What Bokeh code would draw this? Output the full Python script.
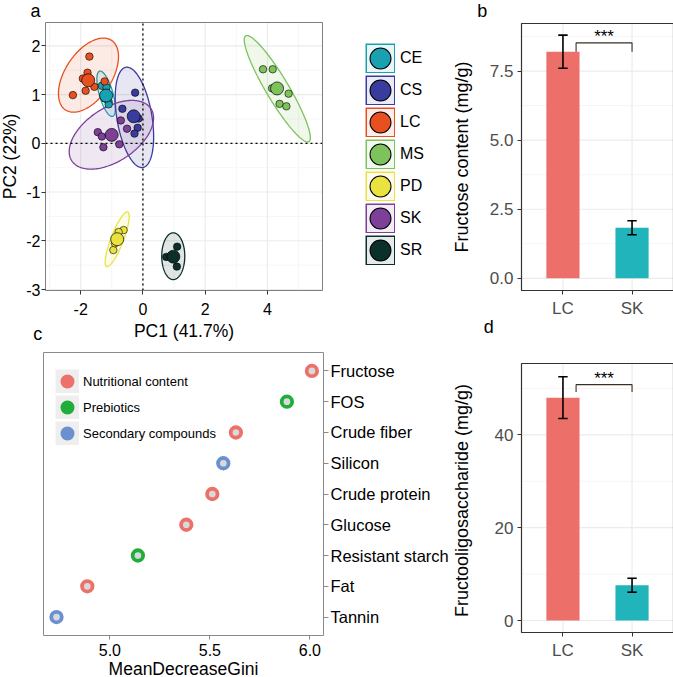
import numpy as np
from bokeh.plotting import figure
from bokeh.layouts import row, column
from bokeh.models import (Range1d, FixedTicker, Label, Legend, LegendItem,
                          PrintfTickFormatter)
from bokeh.embed import file_html
from bokeh.resources import INLINE
from bokeh.core.properties import value

FONT = "Liberation Sans"

# ---------------- panel a : PCA ----------------
pca_groups = ["CE", "CS", "LC", "MS", "PD", "SK", "SR"]
pca_colors = ["#1AA1B1", "#3A3B9E", "#E8501F", "#7DC25B", "#EAE33F", "#7E3F98", "#0B302C"]

ce_pc1 = [-1.32, -1.17, -1.10, -1.22, -1.10]
ce_pc2 = [1.18, 1.15, 0.85, 0.92, 0.80]
cs_pc1 = [-0.25, -0.66, -0.17, -0.27, -0.14, -0.29]
cs_pc2 = [1.04, 0.71, 0.32, 0.20, 0.51, 0.55]
lc_pc1 = [-1.72, -1.78, -1.93, -2.25, -1.84, -1.56, -1.23]
lc_pc2 = [1.78, 1.45, 1.33, 0.99, 1.08, 1.16, 1.27]
ms_pc1 = [3.86, 4.17, 4.68, 4.39, 4.61, 4.15]
ms_pc2 = [1.52, 1.52, 1.02, 0.81, 0.76, 1.13]
pd_pc1 = [-0.62, -0.78, -0.95, -0.90, -0.88]
pd_pc2 = [-1.78, -1.82, -2.19, -2.05, -2.00]
sk_pc1 = [-1.45, -1.32, -1.27, -0.76, -0.71, -0.51]
sk_pc2 = [0.23, 0.14, -0.08, -0.02, 0.47, 0.30]
sr_pc1 = [1.10, 0.75, 1.09, 1.00, 0.95]
sr_pc2 = [-2.12, -2.33, -2.53, -2.35, -2.30]

# confidence ellipses: centre, semi-axes, rotation (degrees)
ell_cx = [-1.183, -0.273, -1.749, 4.318, -0.826, -1.013, 0.975]
ell_cy = [1.017, 0.533, 1.40, 1.12, -1.969, 0.176, -2.316]
ell_a = [0.511, 1.068, 1.077, 1.492, 0.656, 1.408, 0.37]
ell_b = [0.207, 0.549, 0.591, 0.308, 0.183, 0.593, 0.48]
ell_angle = [-63.0, -72.0, 32.1, -45.9, 57.35, 17.4, 0.0]

pca_xlim = (-3.13, 5.77)
pca_ylim = (-3.02, 2.48)
pca_xticks = [-2, 0, 2, 4]
pca_xminor = [-3, -1, 1, 3, 5]
pca_yticks = [-3, -2, -1, 0, 1, 2]
pca_yminor = [-2.5, -1.5, -0.5, 0.5, 1.5]
pc1_label = "PC1 (41.7%)"
pc2_label = "PC2 (22%)"

# ---------------- panels b / d : bars ----------------
bar_groups = ["LC", "SK"]
bar_colors = ["#EC7069", "#21B5BB"]
fructose_mean = [8.20, 1.83]
fructose_err = [0.60, 0.255]
fructose_sig_y = 8.52
fructose_sig_low = 8.20
fructose_ylim = (-0.44, 9.22)
fructose_ticks = [0, 2.5, 5, 7.5]
fructose_minor = [1.25, 3.75, 6.25, 8.75]
fos_mean = [48.0, 7.6]
fos_err = [4.5, 1.5]
fos_sig_y = 50.8
fos_sig_low = 49.2
fos_ylim = (-2.58, 55.36)
fos_ticks = [0, 20, 40]
fos_minor = [10, 30, 50]
sig_x = [1.19, 2.0]
sig_text = "***"

# ---------------- panel c : MeanDecreaseGini ----------------
features = ["Fructose", "FOS", "Crude fiber", "Silicon", "Crude protein",
            "Glucose", "Resistant starch", "Fat", "Tannin"]
gini = [6.01, 5.885, 5.63, 5.567, 5.512, 5.382, 5.14, 4.887, 4.733]
feature_class = ["Nutritional content", "Prebiotics", "Nutritional content",
                 "Secondary compounds", "Nutritional content", "Nutritional content",
                 "Prebiotics", "Nutritional content", "Secondary compounds"]
class_names = ["Nutritional content", "Prebiotics", "Secondary compounds"]
class_colors = ["#EC716B", "#20AD3A", "#6A91CF"]
gini_xlim = (4.668, 6.068)
gini_xticks = [5.0, 5.5, 6.0]

panel_letters = ["a", "b", "c", "d"]

NAN = np.array([np.nan])


def tint(hexc, a):
    r, g, b = int(hexc[1:3], 16), int(hexc[3:5], 16), int(hexc[5:7], 16)
    return "#%02x%02x%02x" % tuple(int(round(255 - (255 - v) * a)) for v in (r, g, b))


def style_axes(p, tick_color, label_color, tick_size, title_size):
    for ax in p.axis:
        ax.axis_line_color = None
        ax.major_tick_line_color = tick_color
        ax.minor_tick_line_color = None
        ax.major_tick_in = 0
        ax.major_label_text_font = FONT
        ax.major_label_text_font_size = tick_size
        ax.major_label_text_color = label_color
        ax.axis_label_text_font = FONT
        ax.axis_label_text_font_size = title_size
        ax.axis_label_text_font_style = "normal"
        ax.axis_label_text_color = "black"


def panel_figure(width, height, box, xlim, ylim, y_axis_loc="left"):
    """Figure whose frame fills the canvas; the visible panel is `box` (px)."""
    left, top, w, h = box
    kx = w / (xlim[1] - xlim[0])
    ky = h / (ylim[1] - ylim[0])
    xr = (xlim[0] - left / kx, xlim[1] + (width - left - w) / kx)
    yr = (ylim[0] - (height - top - h) / ky, ylim[1] + top / ky)
    p = figure(width=width, height=height, x_range=Range1d(*xr), y_range=Range1d(*yr),
               y_axis_location=y_axis_loc, output_backend="svg", toolbar_location=None,
               min_border_left=0, min_border_right=0, min_border_top=0,
               min_border_bottom=0)
    try:
        p.frame_align = False
    except Exception:
        pass
    p.title.visible = False
    p.outline_line_color = None
    p.grid.visible = False
    p.background_fill_color = "white"
    p.border_fill_color = "white"
    p.xaxis.fixed_location = ylim[0]
    p.xaxis.bounds = xlim
    p.yaxis.fixed_location = xlim[1] if y_axis_loc == "right" else xlim[0]
    p.yaxis.bounds = ylim

    def to_data(px, py):
        return (xr[0] + px / width * (xr[1] - xr[0]),
                yr[1] - py / height * (yr[1] - yr[0]))
    return p, to_data


def grid_lines(p, xlim, ylim, xt, yt, color, lw):
    if xt:
        p.segment(x0=xt, x1=xt, y0=[ylim[0]] * len(xt), y1=[ylim[1]] * len(xt),
                  line_color=color, line_width=lw)
    if yt:
        p.segment(x0=[xlim[0]] * len(yt), x1=[xlim[1]] * len(yt), y0=yt, y1=yt,
                  line_color=color, line_width=lw)


def panel_border(p, xlim, ylim, color, lw):
    p.quad(left=[xlim[0]], right=[xlim[1]], bottom=[ylim[0]], top=[ylim[1]],
           fill_color=None, line_color=color, line_width=lw)


def letter(p, to_data, txt, px, py):
    x, y = to_data(px, py)
    p.add_layout(Label(x=x, y=y, text=txt, text_font=FONT, text_font_size="18px",
                       text_align="center", text_baseline="alphabetic", text_color="black"))


# =============== figure a (canvas 452x345 at page 0,0) ===============
FA_H = 345
fa, fa_map = panel_figure(452, FA_H, (45, 22, 277, 268), pca_xlim, pca_ylim)
fa.xaxis.ticker = FixedTicker(ticks=pca_xticks)
fa.yaxis.ticker = FixedTicker(ticks=pca_yticks)
fa.xaxis.major_label_overrides = {v: str(v) for v in pca_xticks}
fa.yaxis.major_label_overrides = {v: str(v) for v in pca_yticks}
fa.xaxis.axis_label = pc1_label
fa.yaxis.axis_label = pc2_label
style_axes(fa, "#333333", "black", "16px", "17.5px")
for ax in fa.axis:
    ax.major_tick_out = 4
fa.xaxis.major_label_standoff = 8
fa.xaxis.axis_label_standoff = 3
fa.yaxis.major_label_standoff = 1
fa.yaxis.axis_label_standoff = 3

grid_lines(fa, pca_xlim, pca_ylim, pca_xminor, pca_yminor, "#F4F4F4", 0.8)
grid_lines(fa, pca_xlim, pca_ylim, pca_xticks, pca_yticks, "#EBEBEB", 1.1)

t = np.linspace(0, 2 * np.pi, 181)
ell_xs, ell_ys = [], []
for cx, cy, a, b, ang in zip(ell_cx, ell_cy, ell_a, ell_b, ell_angle):
    th = np.deg2rad(ang)
    ell_xs.append(cx + a * np.cos(th) * np.cos(t) - b * np.sin(th) * np.sin(t))
    ell_ys.append(cy + a * np.sin(th) * np.cos(t) + b * np.cos(th) * np.sin(t))
fa.patches(ell_xs, ell_ys, fill_color=pca_colors, fill_alpha=0.12,
           line_color=pca_colors, line_width=1.3)

# dotted reference lines at PC1 = 0 and PC2 = 0
fa.line(x=[0, 0], y=list(pca_ylim), line_color="black", line_dash="2 3", line_width=1.3)
fa.line(x=list(pca_xlim), y=[0, 0], line_color="black", line_dash="2 3", line_width=1.3)

pc1_all = [ce_pc1, cs_pc1, lc_pc1, ms_pc1, pd_pc1, sk_pc1, sr_pc1]
pc2_all = [ce_pc2, cs_pc2, lc_pc2, ms_pc2, pd_pc2, sk_pc2, sr_pc2]
for xs, ys, c in zip(pc1_all, pc2_all, pca_colors):
    fa.scatter(xs, ys, size=7.5, fill_color=c, line_color="black", line_width=0.6)
for xs, ys, c in zip(pc1_all, pc2_all, pca_colors):
    fa.scatter([np.mean(xs)], [np.mean(ys)], size=13, fill_color=c,
               line_color="black", line_width=0.7)
panel_border(fa, pca_xlim, pca_ylim, "#7F7F7F", 1)

a_items = []
for g, c in zip(pca_groups, pca_colors):
    r1 = fa.scatter(NAN, NAN, marker="square", size=12, fill_color=c, line_color=c,
                    line_width=18, line_join="miter")
    r2 = fa.scatter(NAN, NAN, marker="square", size=12, fill_color=tint(c, 0.1),
                    line_color=tint(c, 0.1), line_width=15, line_join="miter")
    r3 = fa.scatter(NAN, NAN, size=12, fill_color="black", line_color="black", line_width=10)
    r4 = fa.scatter(NAN, NAN, size=12, fill_color=c, line_color=c, line_width=8)
    a_items.append(LegendItem(label=g, renderers=[r1, r2, r3, r4]))
# legend top-left at canvas (365, 43); 7 items of 30 px + 6 gaps of 2 px
leg_a = Legend(items=a_items, location=(365, FA_H - (43 + 7 * 30 + 6 * 2)),
               glyph_width=30, glyph_height=30,
               label_standoff=5, spacing=2, padding=0, margin=0,
               border_line_color=None, background_fill_alpha=0,
               label_text_font=FONT, label_text_font_size="16px",
               label_text_color="black")
fa.add_layout(leg_a)
letter(fa, fa_map, panel_letters[0], 35, 10)
letter(fa, fa_map, panel_letters[2], 37.3, 333)


# =============== bar panels ===============
def bar_panel(height, box, ylabel, means, errs, sig_y, sig_low, ylim, ticks, minor, fmt,
              title_standoff):
    xlim = (0.4, 2.6)
    p, to_data = panel_figure(221, height, box, xlim, ylim)
    xs = np.arange(1, len(bar_groups) + 1)
    p.xaxis.ticker = FixedTicker(ticks=list(xs))
    p.xaxis.major_label_overrides = {int(x): g for x, g in zip(xs, bar_groups)}
    p.yaxis.ticker = FixedTicker(ticks=ticks)
    if fmt:
        p.yaxis.formatter = PrintfTickFormatter(format=fmt)
    p.yaxis.axis_label = ylabel
    style_axes(p, "#333333", "#4D4D4D", "17px", "18px")
    for ax in p.axis:
        ax.major_tick_out = 4
        ax.major_label_standoff = 4
    p.yaxis.axis_label_standoff = title_standoff

    grid_lines(p, xlim, ylim, None, minor, "#F2F2F2", 0.8)
    grid_lines(p, xlim, ylim, list(xs), ticks, "#EBEBEB", 1.2)

    means = np.array(means)
    errs = np.array(errs)
    p.vbar(x=xs, top=means, bottom=0, width=0.48, fill_color=bar_colors, line_color=None)
    cap = 0.068
    p.segment(x0=xs, y0=means - errs, x1=xs, y1=means + errs, line_color="black", line_width=1.6)
    p.segment(x0=xs - cap, y0=means + errs, x1=xs + cap, y1=means + errs,
              line_color="black", line_width=1.6)
    p.segment(x0=xs - cap, y0=means - errs, x1=xs + cap, y1=means - errs,
              line_color="black", line_width=1.6)
    p.line(x=[sig_x[0], sig_x[0], sig_x[1], sig_x[1]], y=[sig_low, sig_y, sig_y, sig_low],
           line_color="#3A2E25", line_width=1.1)
    p.text(x=[np.mean(sig_x)], y=[sig_y], text=[sig_text], text_font=value(FONT),
           text_font_size="17px", text_align="center", text_baseline="alphabetic",
           y_offset=-6, text_color="black")
    panel_border(p, xlim, ylim, "#333333", 1.2)
    return p, to_data


# figure b: canvas 221x342 at page (452, 0)
fb, fb_map = bar_panel(342, (69, 23, 152, 267), "Fructose content (mg/g)", fructose_mean,
                       fructose_err, fructose_sig_y, fructose_sig_low, fructose_ylim,
                       fructose_ticks, fructose_minor, "%.1f", 15)
letter(fb, fb_map, panel_letters[1], 481.7 - 452, 10)
letter(fb, fb_map, panel_letters[3], 488.3 - 452, 326.7)

# figure d: canvas 221x335 at page (452, 342)
fd, fd_map = bar_panel(335, (69, 21, 152, 269), "Fructooligosaccharide  (mg/g)", fos_mean,
                       fos_err, fos_sig_y, fos_sig_low, fos_ylim, fos_ticks, fos_minor,
                       None, 20)

# =============== figure c: canvas 452x332 at page (0, 345) ===============
FC_H = 677 - FA_H
ypos = np.arange(len(features), 0, -1)
gini_ylim = (ypos.min() - 0.6, ypos.max() + 0.6)
fc, fc_map = panel_figure(452, FC_H, (43, 352 - FA_H, 280, 283), gini_xlim, gini_ylim,
                          y_axis_loc="right")
fc.xaxis.ticker = FixedTicker(ticks=gini_xticks)
fc.xaxis.formatter = PrintfTickFormatter(format="%.1f")
fc.yaxis.ticker = FixedTicker(ticks=[int(v) for v in ypos])
fc.yaxis.major_label_overrides = {int(v): f for v, f in zip(ypos, features)}
fc.xaxis.axis_label = "MeanDecreaseGini"
style_axes(fc, "#8A8A8A", "black", "16px", "17.5px")
fc.yaxis.major_label_text_font_size = "16.5px"
fc.xaxis.major_tick_out = 4
fc.xaxis.major_label_standoff = 4
fc.xaxis.axis_label_standoff = 0
fc.yaxis.major_tick_out = 5
fc.yaxis.major_label_standoff = 2

cmap = dict(zip(class_names, class_colors))
fc.scatter(x=gini, y=ypos, size=10.5, fill_color="#D9D9D9",
           line_color=[cmap[k] for k in feature_class], line_width=3.8)
panel_border(fc, gini_xlim, gini_ylim, "#8A8A8A", 1)

c_items = []
for name, col in zip(class_names, class_colors):
    r1 = fc.scatter(NAN, NAN, marker="square", size=9.6, fill_color="#EEEEEE",
                    line_color="#EEEEEE", line_width=14.4, line_join="miter")
    r2 = fc.scatter(NAN, NAN, size=9.6, fill_color=col, line_color=col, line_width=4.4)
    c_items.append(LegendItem(label=name, renderers=[r1, r2]))
# legend top-left at page (55, 369); 3 items of 24 px + 2 gaps of 2 px
leg_c = Legend(items=c_items, location=(55, FC_H - (369 - FA_H + 3 * 24 + 2 * 2)),
               glyph_width=24, glyph_height=24,
               label_standoff=4, spacing=2, padding=0, margin=0,
               border_line_color=None, background_fill_alpha=0,
               label_text_font=FONT, label_text_font_size="13px", label_text_color="black")
fc.add_layout(leg_c)

root = row(column(fa, fc, spacing=0), column(fb, fd, spacing=0), spacing=0)
root.styles = {"position": "absolute", "left": "0px", "top": "0px"}

open("out.html", "w").write(file_html(root, INLINE))
